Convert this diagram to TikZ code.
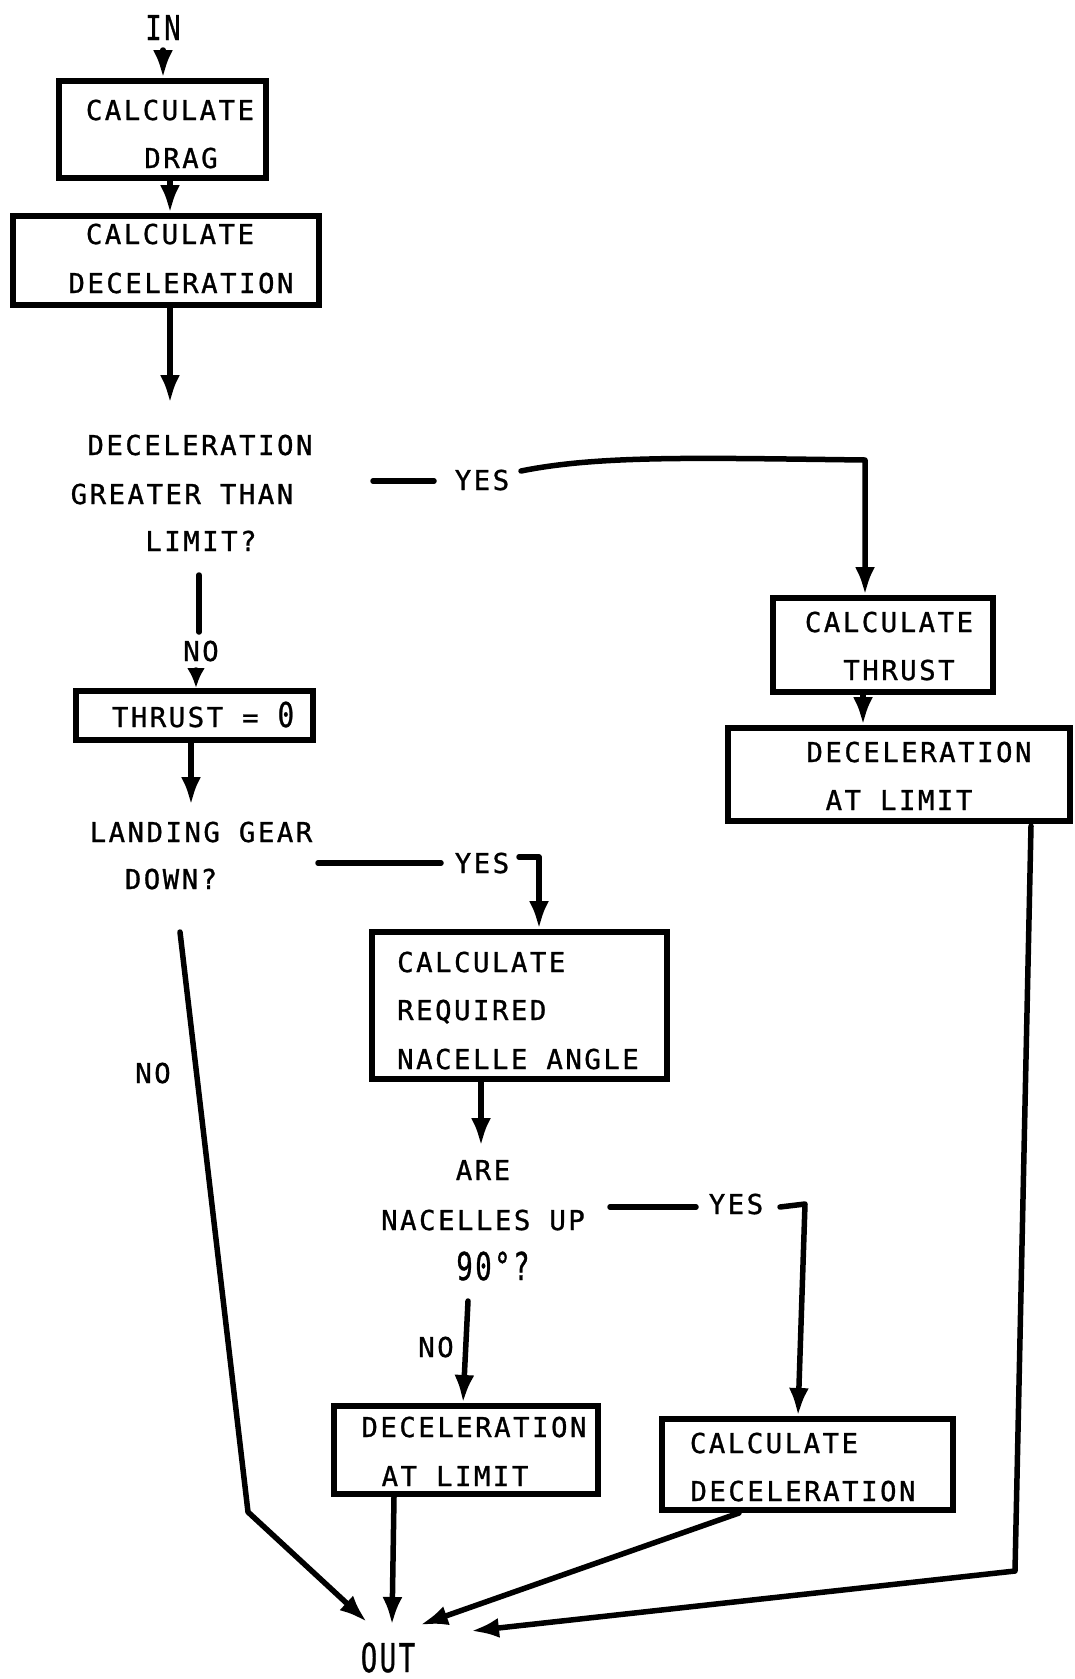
\documentclass[tikz,border=0pt]{standalone}
\usepackage{fontspec}
\usepackage{graphicx}
\usetikzlibrary{arrows.meta}
\newfontfamily\tw[LetterSpace=9,FakeBold=1]{DejaVu Sans Mono}
\newcommand{\tallx}[2]{\scalebox{1}[#1]{#2}}
\begin{document}
\begin{tikzpicture}[x=1pt,y=-1pt,
  txt/.style={font=\tw\fontsize{27.4}{32}\selectfont, inner sep=0pt, anchor=base},
  txtl/.style={txt, anchor=base west},
  box/.style={draw, line width=6pt, inner sep=0pt},
  conn/.style={line width=5.5pt, line cap=round, line join=round},
  arr/.style={conn, -{Latex[length=28pt,width=20pt]}},
  sarr/.style={conn, -{Latex[length=20pt,width=18pt]}}]
\useasboundingbox (0,0) rectangle (1074,1679);
% boxes
\node[box, minimum width=207pt, minimum height=97pt] (b1) at (162.5,129.5) {};
\node[box, minimum width=306pt, minimum height=89pt] (b2) at (166,260.5) {};
\node[box, minimum width=220pt, minimum height=94pt] (b3) at (883,645) {};
\node[box, minimum width=342pt, minimum height=93pt] (b4) at (899,774.5) {};
\node[box, minimum width=237pt, minimum height=49pt] (b5) at (194.5,715.5) {};
\node[box, minimum width=295pt, minimum height=147pt] (b6) at (519.5,1005.5) {};
\node[box, minimum width=264pt, minimum height=88pt] (b7) at (466,1450) {};
\node[box, minimum width=291pt, minimum height=91pt] (b8) at (807.5,1464.5) {};
% texts
\node[txt] (in) at (163,40) {\tallx{1.25}{IN}};
\node[txt] (b1a) at (170,120) {CALCULATE};
\node[txt] (b1b) at (181,168) {DRAG};
\node[txt] (b2a) at (170,244) {CALCULATE};
\node[txt] (b2b) at (181,293) {DECELERATION};
\node[txt] (d1a) at (200,455) {DECELERATION};
\node[txt] (d1b) at (182,504) {GREATER THAN};
\node[txt] (d1c) at (201,551) {LIMIT?};
\node[txt] (y1) at (482,490) {YES};
\node[txt] (b3a) at (889,632) {CALCULATE};
\node[txt] (b3b) at (899,680) {THRUST};
\node[txt] (b4a) at (919,762) {DECELERATION};
\node[txt] (b4b) at (899,810) {AT LIMIT};
\node[txt] (n1) at (201,661) {NO};
\node[txt] (b5a) at (203,727) {THRUST = \tallx{1.25}{0}};
\node[txt] (d2a) at (201,842) {LANDING GEAR};
\node[txt] (d2b) at (171,889) {DOWN?};
\node[txt] (y2) at (482,873) {YES};
\node[txtl] (b6a) at (397,972) {CALCULATE};
\node[txtl] (b6b) at (397,1020) {REQUIRED};
\node[txtl] (b6c) at (397,1069) {NACELLE ANGLE};
\node[txt] (d3a) at (483,1180) {ARE};
\node[txt] (d3b) at (483,1230) {NACELLES UP};
\node[txt] (d3c) at (493,1280) {\tallx{1.4}{90°?}};
\node[txt] (y3) at (736,1214) {YES};
\node[txt] (n3) at (436,1357) {NO};
\node[txt] (b7a) at (474,1437) {DECELERATION};
\node[txt] (b7b) at (455,1486) {AT LIMIT};
\node[txt] (b8a) at (774,1453) {CALCULATE};
\node[txt] (b8b) at (803,1501) {DECELERATION};
\node[txt] (n2) at (153,1083) {NO};
\node[txt] (out) at (388,1672) {\tallx{1.45}{OUT}};
% coordinates
\coordinate (inb) at (163,50);
\coordinate (xa1) at (170,0);
\coordinate (d1top) at (170,403);
\coordinate (y1s) at (373,481);
\coordinate (y1e) at (434,481);
\coordinate (y1c) at (521,471);
\coordinate (y1k) at (865,460);
\coordinate (xa3) at (863,0);
\coordinate (r1) at (1031,826);
\coordinate (r2) at (1015,1571);
\coordinate (o4) at (471,1631);
\coordinate (n1s) at (199,575);
\coordinate (n1e) at (199,632);
\coordinate (n1b) at (196,670);
\coordinate (xa5) at (196,0);
\coordinate (xa6) at (191,0);
\coordinate (d2top) at (191,805);
\coordinate (y2s) at (318,863);
\coordinate (y2e) at (441,863);
\coordinate (y2c) at (519,857);
\coordinate (y2k) at (539,857);
\coordinate (xa7) at (481,0);
\coordinate (d3top) at (481,1146);
\coordinate (y3s) at (610,1207);
\coordinate (y3e) at (696,1207);
\coordinate (y3c) at (780,1207);
\coordinate (y3k) at (805,1204);
\coordinate (xa8) at (798,0);
\coordinate (n3s) at (468,1301);
\coordinate (xa9) at (463,0);
\coordinate (n2s) at (180,932);
\coordinate (n2k) at (248,1512);
\coordinate (o1) at (367,1622);
\coordinate (xa10) at (394,0);
\coordinate (o2) at (392,1625);
\coordinate (xa11) at (739,0);
\coordinate (o3) at (420,1625);
% connectors
\draw[arr] (inb) -- (inb |- b1.north);
\draw[arr] (xa1 |- b1.south) -- (xa1 |- b2.north);
\draw[arr] (xa1 |- b2.south) -- (d1top);
\draw[conn] (y1s) -- (y1e);
\draw[arr] (y1c) .. controls (600,455) and (700,458) .. (y1k) -- (y1k |- b3.north);
\draw[arr] (xa3 |- b3.south) -- (xa3 |- b4.north);
\draw[arr] (r1) -- (r2) -- (o4);
\draw[conn] (n1s) -- (n1e);
\draw[sarr] (n1b) -- (xa5 |- b5.north);
\draw[arr] (xa6 |- b5.south) -- (d2top);
\draw[conn] (y2s) -- (y2e);
\draw[arr] (y2c) -- (y2k) -- (y2k |- b6.north);
\draw[arr] (xa7 |- b6.south) -- (d3top);
\draw[conn] (y3s) -- (y3e);
\draw[arr] (y3c) -- (y3k) -- (xa8 |- b8.north);
\draw[arr] (n3s) -- (xa9 |- b7.north);
\draw[arr] (n2s) -- (n2k) -- (o1);
\draw[arr] (xa10 |- b7.south) -- (o2);
\draw[arr] (xa11 |- b8.south) -- (o3);
\end{tikzpicture}
\end{document}
